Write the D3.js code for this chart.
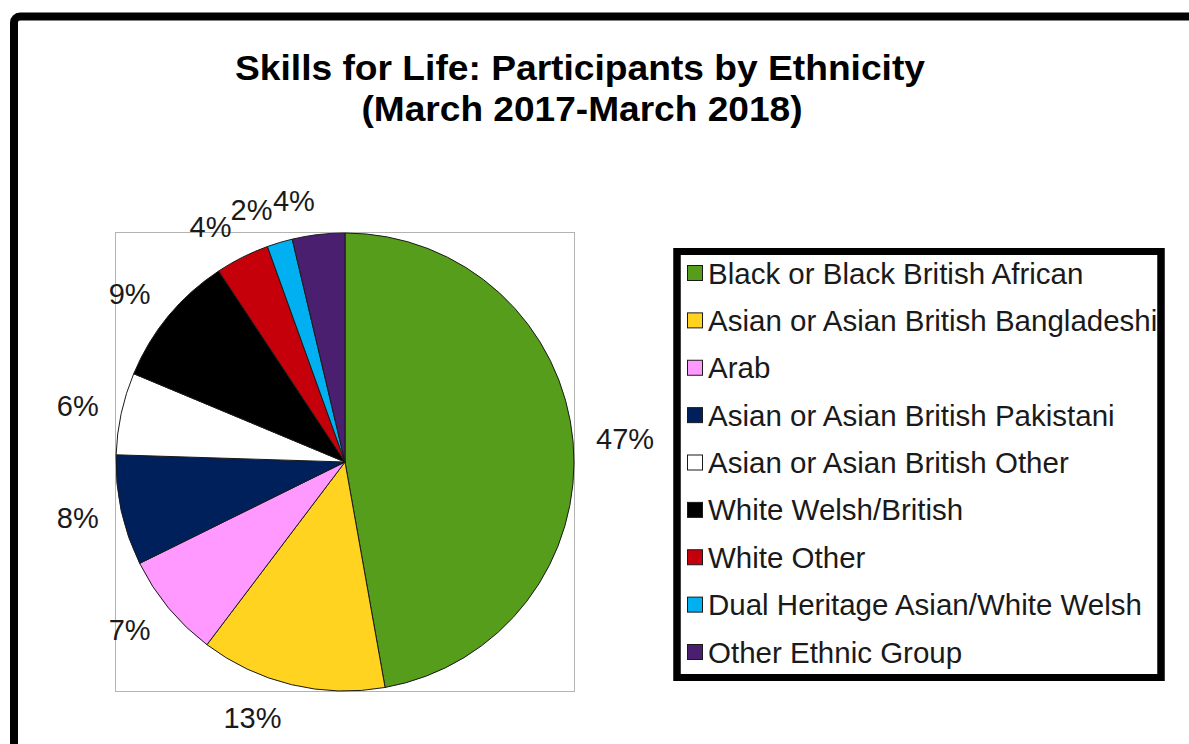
<!DOCTYPE html>
<html>
<head>
<meta charset="utf-8">
<script src="https://cdn.jsdelivr.net/npm/d3@7"></script>
<style>
	body { margin: 0; background: #fff; }
	svg { display: block; font-family: "Liberation Sans", Arial, sans-serif; }
</style>
</head>
<body>
<div id="chart"></div>
<script>
'use strict';

// data, clockwise from 12 o'clock
let categories = [
	'Black or Black British African',
	'Asian or Asian British Bangladeshi',
	'Arab',
	'Asian or Asian British Pakistani',
	'Asian or Asian British Other',
	'White Welsh/British',
	'White Other',
	'Dual Heritage Asian/White Welsh',
	'Other Ethnic Group'
];
let values = [47.2, 13.1, 7.4, 7.8, 5.8, 9.4, 3.8, 1.8, 3.7];
let colours = ['#579d1c', '#ffd320', '#ff99ff', '#00205b', '#ffffff', '#000000', '#c5000b', '#00b0f0', '#4b1f6f'];
let titleLines = ['Skills for Life: Participants by Ethnicity', '(March 2017-March 2018)'];

let W = 1189, H = 744;
let svg = d3.select('#chart')
	.append('svg')
		.attr('width', W)
		.attr('height', H)
	;

// outer frame, runs off the right and bottom edges
svg.append('rect')
	.attr('x', 14).attr('y', 16.5)
	.attr('width', 1300).attr('height', 900)
	.attr('rx', 6).attr('ry', 6)
	.attr('fill', 'none')
	.attr('stroke', '#000')
	.attr('stroke-width', 8)
	;

// title
let title = svg.append('g');
title.append('text')
	.attr('x', 580).attr('y', 80)
	.attr('text-anchor', 'middle')
	.attr('font-weight', 'bold')
	.attr('font-size', 35)
	.attr('textLength', 690)
	.attr('lengthAdjust', 'spacingAndGlyphs')
	.text(titleLines[0]);
title.append('text')
	.attr('x', 582).attr('y', 121)
	.attr('text-anchor', 'middle')
	.attr('font-weight', 'bold')
	.attr('font-size', 35)
	.attr('textLength', 441)
	.attr('lengthAdjust', 'spacingAndGlyphs')
	.text(titleLines[1]);

// plot area
let cx = 345, cy = 462, r = 229;
svg.append('rect')
	.attr('x', cx - r - 0.5).attr('y', cy - r - 0.5)
	.attr('width', 2*r + 1).attr('height', 2*r + 1)
	.attr('fill', 'none')
	.attr('stroke', '#b3b3b3')
	.attr('stroke-width', 1)
	;

let pie = d3.pie().sort(null).value(d => d);
let arcs = pie(values);
let arc = d3.arc().innerRadius(0).outerRadius(r);

let g = svg.append('g').attr('transform', 'translate(' + cx + ',' + cy + ')');
g.selectAll('path.slice')
	.data(arcs)
	.enter().append('path')
		.classed('slice', true)
		.attr('d', arc)
		.attr('fill', (d, i) => colours[i])
		.attr('stroke', '#1a1a1a')
		.attr('stroke-width', 1)
	;

// labels outside, pushed away from the slice edge
let lblSize = 29;
let lw = 44, lh = 24;
g.selectAll('text.lbl')
	.data(arcs)
	.enter().append('text')
		.classed('lbl', true)
		.attr('font-size', lblSize)
		.attr('fill', '#1a1a1a')
		.attr('text-anchor', 'middle')
		.attr('dominant-baseline', 'central')
		.each(function(d) {
			let a = (d.startAngle + d.endAngle)/2;
			let s = Math.sin(a), c = -Math.cos(a);
			let w = d.index === 0 ? 60 : lw;
			let x = (r + 22)*s + Math.sign(s)*w/2;
			if (c > 0 && Math.abs(s) < 0.3) {
				x -= 12;
			}
			let y = (r + 22)*c + c*lh/2;
			d3.select(this).attr('x', x).attr('y', y);
		})
		.text(d => Math.round(d.value) + '%')
	;

// legend
let lx = 677, ly = 251.5, lW = 484, lH = 426;
svg.append('rect')
	.attr('x', lx).attr('y', ly)
	.attr('width', lW).attr('height', lH)
	.attr('fill', '#fff')
	.attr('stroke', '#000')
	.attr('stroke-width', 7)
	;

let rowY = d3.scalePoint().domain(categories).range([273, 652]);
let leg = svg.append('g');
let items = leg.selectAll('g.item')
	.data(categories)
	.enter().append('g')
		.classed('item', true)
		.attr('transform', d => 'translate(0,' + rowY(d) + ')')
	;
items.append('rect')
	.attr('x', 687.5).attr('y', -7.5)
	.attr('width', 15).attr('height', 15)
	.attr('fill', (d, i) => colours[i])
	.attr('stroke', '#1a1a1a')
	.attr('stroke-width', 1)
	;
items.append('text')
	.attr('x', 708)
	.attr('y', 0)
	.attr('dominant-baseline', 'central')
	.attr('font-size', 29.5)
	.attr('fill', '#1a1a1a')
	.text(d => d)
	;

// legend border drawn again so long labels tuck under it
svg.append('rect')
	.attr('x', lx).attr('y', ly)
	.attr('width', lW).attr('height', lH)
	.attr('fill', 'none')
	.attr('stroke', '#000')
	.attr('stroke-width', 7)
	;
</script>
</body>
</html>
